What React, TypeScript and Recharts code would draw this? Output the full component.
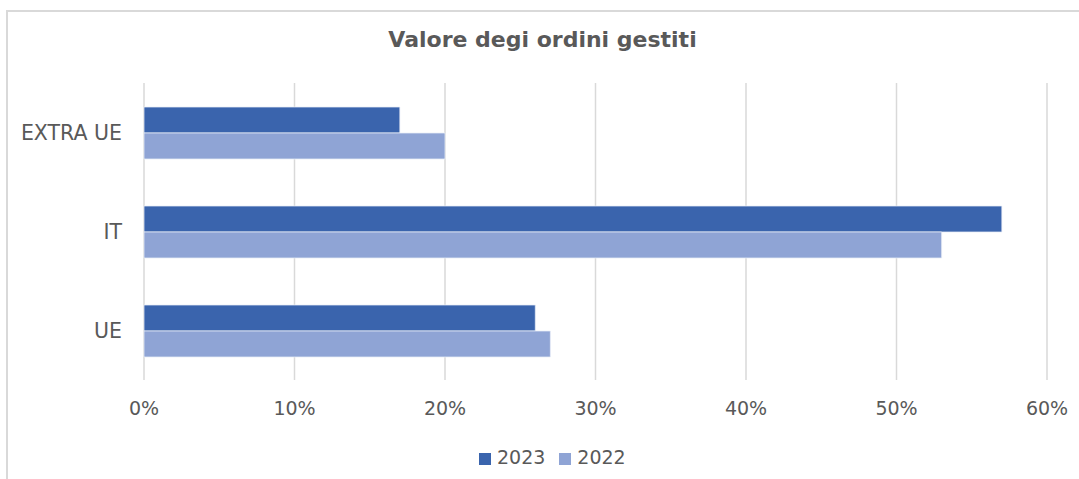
import React from "react";
import { BarChart, Bar, XAxis, YAxis, CartesianGrid, Legend } from "recharts";

const categories = ["EXTRA UE", "IT", "UE"];
const values2023 = [17, 57, 26];
const values2022 = [20, 53, 27];
const seriesNames = ["2023", "2022"];
const xTicks = [0, 10, 20, 30, 40, 50, 60];

const data = categories.map((name, i) => ({
  name,
  y2023: values2023[i],
  y2022: values2022[i],
}));

const FONT = "'DejaVu Sans', sans-serif";
const TEXT = "#595959";

export default function App() {
  return (
    <div
      style={{
        position: "absolute",
        left: 0,
        top: 0,
        width: 1079,
        height: 479,
        background: "#fff",
        overflow: "hidden",
        fontFamily: FONT,
      }}
    >
      <div
        style={{
          position: "absolute",
          left: 0,
          top: 27,
          width: 1085,
          textAlign: "center",
          fontSize: 22,
          fontWeight: "bold",
          color: TEXT,
        }}
      >
        Valore degi ordini gestiti
      </div>
      <div style={{ position: "absolute", left: 0, top: 0 }}>
        <BarChart
          width={1079}
          height={479}
          data={data}
          layout="vertical"
          margin={{ top: 83, right: 32, bottom: 59, left: 0 }}
          barGap={0}
        >
          <CartesianGrid horizontal={false} stroke="#d9d9d9" strokeWidth={1.5} />
          <XAxis
            type="number"
            domain={[0, 60]}
            ticks={xTicks}
            tickFormatter={(v) => `${v}%`}
            axisLine={false}
            tickLine={false}
            tickMargin={16}
            height={40}
            tick={{ fill: TEXT, fontSize: 19 }}
          />
          <YAxis
            type="category"
            dataKey="name"
            width={144}
            axisLine={false}
            tickLine={false}
            tickMargin={16}
            tick={{ fill: TEXT, fontSize: 20.5 }}
          />
          <Legend
            verticalAlign="middle"
            align="center"
            layout="horizontal"
            iconType="square"
            iconSize={12}
            itemSorter={(item: any) => seriesNames.indexOf(String(item.value))}
            wrapperStyle={{ top: 446, left: 479, width: "auto", fontSize: 19 }}
            formatter={(value) => (
              <span style={{ color: TEXT, paddingLeft: 2, paddingRight: 4 }}>{value}</span>
            )}
          />
          <Bar
            dataKey="y2023"
            name={seriesNames[0]}
            fill="#3a64ad"
            stroke="#e8edf7"
            strokeWidth={0.75}
            barSize={26}
            isAnimationActive={false}
          />
          <Bar
            dataKey="y2022"
            name={seriesNames[1]}
            fill="#8fa4d5"
            stroke="#e8edf7"
            strokeWidth={0.75}
            barSize={26}
            isAnimationActive={false}
          />
        </BarChart>
      </div>
      <div
        style={{
          position: "absolute",
          left: 6,
          top: 10,
          width: 1100,
          height: 500,
          borderLeft: "2px solid #d9d9d9",
          borderTop: "2px solid #d9d9d9",
          pointerEvents: "none",
        }}
      />
    </div>
  );
}
